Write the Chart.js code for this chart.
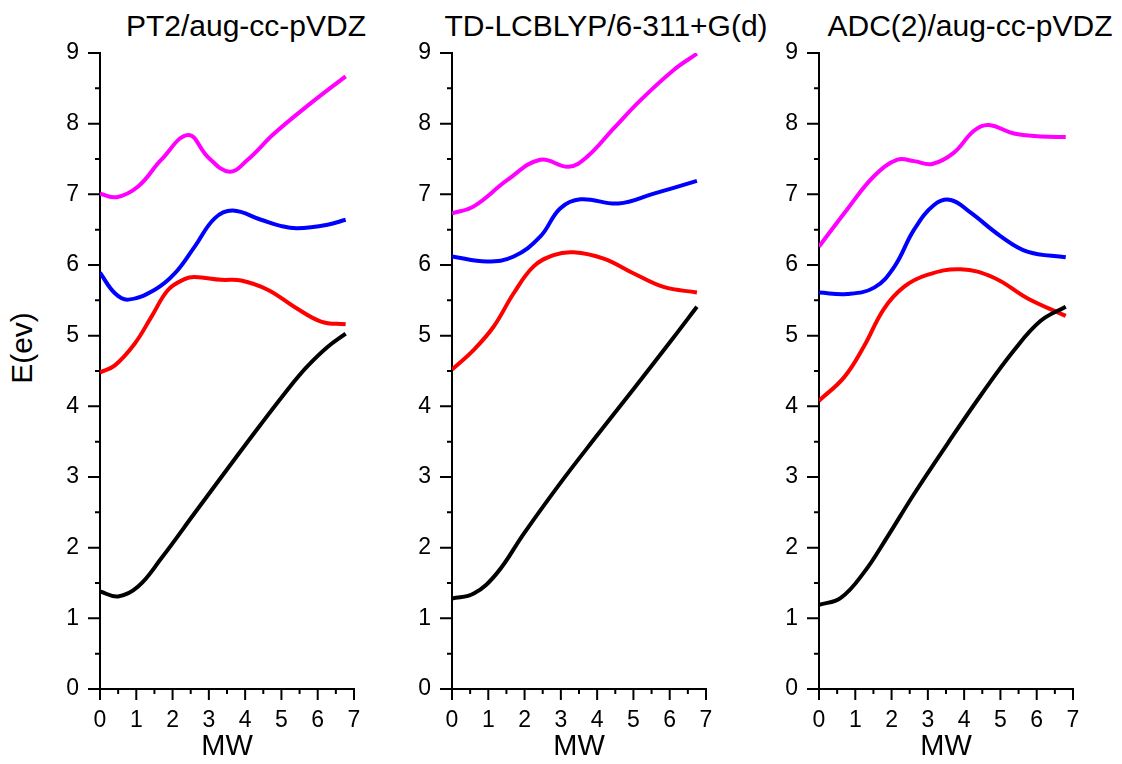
<!DOCTYPE html>
<html>
<head>
<meta charset="utf-8">
<script src="https://cdn.jsdelivr.net/npm/chart.js@4.4.1/dist/chart.umd.min.js"></script>
<style>
body { margin: 0; background: #fff; overflow: hidden; }
#wrap { position: relative; width: 1122px; height: 764px; font-family: "Liberation Sans", Arial, sans-serif; color: #000; }
#wrap canvas { position: absolute; top: 0; }
.ttl { position: absolute; top: 8px; height: 36px; line-height: 36px; font-size: 30px; white-space: nowrap; transform: translateX(-50%); }
#ylab { position: absolute; left: 22px; top: 348px; font-size: 30px; line-height: 1; white-space: nowrap; transform: translate(-50%, -50%) rotate(-90deg); }
</style>
</head>
<body>
<div id="wrap">
  <div class="ttl" style="left:246px">PT2/aug-cc-pVDZ</div>
  <div class="ttl" style="left:606px">TD-LCBLYP/6-311+G(d)</div>
  <div class="ttl" style="left:970px">ADC(2)/aug-cc-pVDZ</div>
  <div id="ylab">E(ev)</div>
  <canvas id="c1" width="380" height="764" style="left:0px"></canvas>
  <canvas id="c2" width="340" height="764" style="left:392px"></canvas>
  <canvas id="c3" width="340" height="764" style="left:759px"></canvas>
</div>
<script>
//1) DATA//
const xLabel = 'MW';
const xMin = 0, xMax = 7;
const yMin = 0, yMax = 9;

// PT2/aug-cc-pVDZ
const pt2BlackX = [0, 0.5, 1.05, 1.69, 2.61, 3.52, 4.44, 5.35, 5.72, 6.27, 6.77];
const pt2BlackY = [1.38, 1.31, 1.45, 1.85, 2.49, 3.12, 3.75, 4.35, 4.57, 4.84, 5.03];
const pt2RedX = [0, 0.41, 0.96, 1.42, 1.88, 2.33, 2.61, 3.34, 3.89, 4.62, 5.35, 6.09, 6.77];
const pt2RedY = [4.48, 4.58, 4.89, 5.27, 5.65, 5.80, 5.83, 5.79, 5.78, 5.65, 5.41, 5.20, 5.16];
const pt2BlueX = [0, 0.41, 0.78, 1.51, 2.06, 2.61, 3.16, 3.66, 4.44, 5.00, 5.44, 6.27, 6.77];
const pt2BlueY = [5.89, 5.60, 5.51, 5.65, 5.88, 6.26, 6.66, 6.77, 6.64, 6.55, 6.52, 6.57, 6.64];
const pt2MagX = [0, 0.46, 1.05, 1.69, 2.43, 2.97, 3.57, 4.07, 4.80, 5.81, 6.77];
const pt2MagY = [7.01, 6.96, 7.11, 7.49, 7.84, 7.53, 7.32, 7.49, 7.86, 8.29, 8.67];

// TD-LCBLYP/6-311+G(d)
const lcBlackX = [0, 0.60, 1.24, 1.98, 2.98, 4.00, 5.01, 6.10, 6.75];
const lcBlackY = [1.28, 1.35, 1.64, 2.20, 2.91, 3.59, 4.25, 4.97, 5.41];
const lcRedX = [0, 0.60, 1.15, 1.70, 2.25, 2.80, 3.35, 4.18, 5.01, 5.83, 6.75];
const lcRedY = [4.52, 4.80, 5.13, 5.60, 5.98, 6.14, 6.18, 6.09, 5.88, 5.69, 5.61];
const lcBlueX = [0, 0.96, 1.70, 2.43, 2.98, 3.54, 4.59, 5.56, 6.75];
const lcBlueY = [6.12, 6.05, 6.12, 6.40, 6.80, 6.93, 6.87, 7.01, 7.19];
const lcMagX = [0, 0.60, 1.52, 2.43, 3.21, 3.72, 4.45, 5.19, 6.11, 6.75];
const lcMagY = [6.73, 6.83, 7.20, 7.49, 7.39, 7.53, 7.93, 8.33, 8.76, 8.99];

// ADC(2)/aug-cc-pVDZ
const adcBlackX = [0, 0.60, 1.24, 1.88, 2.62, 3.54, 4.45, 5.37, 6.11, 6.80];
const adcBlackY = [1.19, 1.29, 1.65, 2.15, 2.76, 3.47, 4.15, 4.79, 5.21, 5.41];
const adcRedX = [0, 0.69, 1.24, 1.79, 2.34, 2.98, 3.90, 4.82, 5.74, 6.80];
const adcRedY = [4.08, 4.41, 4.85, 5.38, 5.69, 5.86, 5.94, 5.82, 5.53, 5.28];
const adcBlueX = [0, 0.78, 1.52, 2.07, 2.62, 3.17, 3.63, 4.18, 5.00, 5.74, 6.80];
const adcBlueY = [5.61, 5.59, 5.68, 5.97, 6.50, 6.85, 6.92, 6.74, 6.41, 6.19, 6.11];
const adcMagX = [0, 0.78, 1.52, 2.16, 2.62, 3.12, 3.72, 4.27, 4.68, 5.37, 6.11, 6.80];
const adcMagY = [6.26, 6.79, 7.26, 7.49, 7.47, 7.43, 7.59, 7.90, 7.98, 7.86, 7.82, 7.81];

//2) HELPERS//
const FONT = '"Liberation Sans", Arial, sans-serif';

const toPoints = (xs, ys) => xs.map((x, i) => ({ x: x, y: ys[i] }));

const curve = (xs, ys, color) => ({
   data: toPoints(xs, ys),
   borderColor: color,
   borderWidth: 4,
   pointRadius: 0,
   showLine: true,
   fill: false,
   tension: 0.4
});

// major ticks long, minor (half steps) short, both pointing outwards
const tickMarks = {
   id: 'tickMarks',
   afterDraw(chart) {
      const { ctx, chartArea, scales } = chart;
      ctx.save();
      ctx.strokeStyle = '#000';
      ctx.lineWidth = 2;
      ctx.beginPath();
      for (let v = scales.x.min; v <= scales.x.max; v += 0.5) {
         const px = scales.x.getPixelForValue(v);
         ctx.moveTo(px, chartArea.bottom);
         ctx.lineTo(px, chartArea.bottom + (v % 1 === 0 ? 11 : 5));
      }
      for (let v = scales.y.min; v <= scales.y.max; v += 0.5) {
         const py = scales.y.getPixelForValue(v);
         ctx.moveTo(chartArea.left, py);
         ctx.lineTo(chartArea.left - (v % 1 === 0 ? 12 : 5), py);
      }
      ctx.stroke();
      ctx.restore();
   }
};

function makePanel(id, yWidth, datasets) {
   return new Chart(document.getElementById(id), {
      type: 'scatter',
      data: { datasets: datasets },
      options: {
         responsive: false,
         animation: false,
         devicePixelRatio: 1,
         layout: { padding: { top: 53, right: 26, left: 0, bottom: 0 } },
         plugins: { legend: { display: false }, tooltip: { enabled: false } },
         scales: {
            x: {
               type: 'linear',
               min: xMin,
               max: xMax,
               ticks: { stepSize: 1, color: '#000', padding: 18, font: { family: FONT, size: 23 } },
               grid: { display: false, drawTicks: false },
               border: { color: '#000', width: 2 },
               title: { display: true, text: xLabel, color: '#000', font: { family: FONT, size: 29 }, padding: { top: 0, bottom: 0 } },
               afterFit: s => { s.height = 75; }
            },
            y: {
               type: 'linear',
               min: yMin,
               max: yMax,
               ticks: { stepSize: 1, color: '#000', padding: 21, font: { family: FONT, size: 23 } },
               grid: { display: false, drawTicks: false },
               border: { color: '#000', width: 2 },
               afterFit: s => { s.width = yWidth; }
            }
         }
      },
      plugins: [tickMarks]
   });
}

//3) CHARTS//
makePanel('c1', 100, [
   curve(pt2BlackX, pt2BlackY, '#000000'),
   curve(pt2RedX, pt2RedY, '#FF0000'),
   curve(pt2BlueX, pt2BlueY, '#0000FF'),
   curve(pt2MagX, pt2MagY, '#FF00FF')
]);
makePanel('c2', 60, [
   curve(lcBlackX, lcBlackY, '#000000'),
   curve(lcRedX, lcRedY, '#FF0000'),
   curve(lcBlueX, lcBlueY, '#0000FF'),
   curve(lcMagX, lcMagY, '#FF00FF')
]);
makePanel('c3', 60, [
   curve(adcBlackX, adcBlackY, '#000000'),
   curve(adcRedX, adcRedY, '#FF0000'),
   curve(adcBlueX, adcBlueY, '#0000FF'),
   curve(adcMagX, adcMagY, '#FF00FF')
]);
</script>
</body>
</html>
